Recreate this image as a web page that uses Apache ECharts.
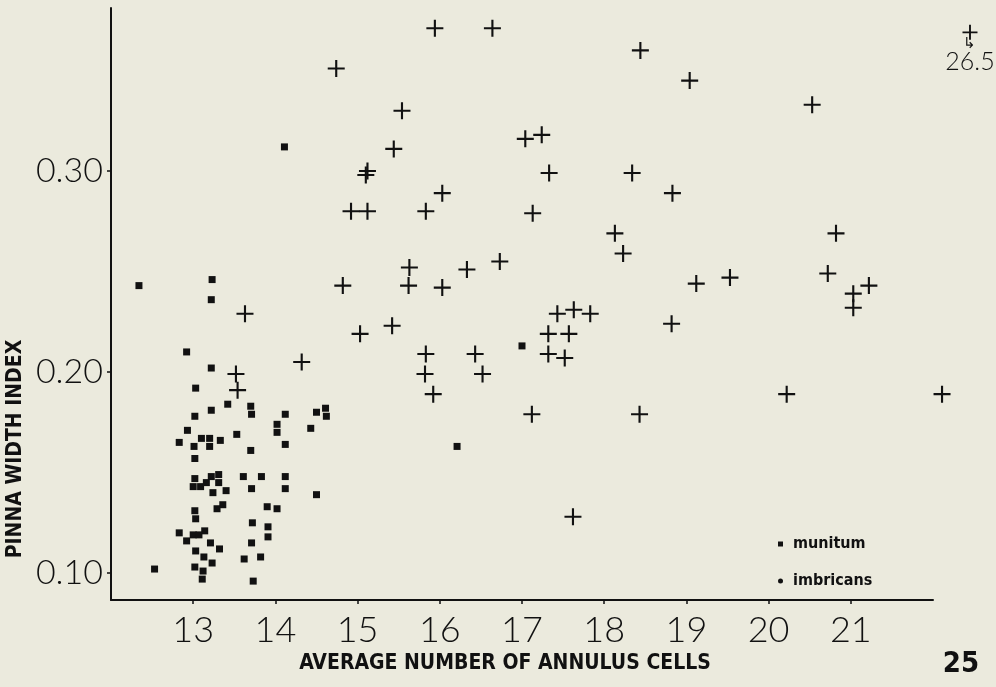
<!DOCTYPE html>
<html>
<head>
<meta charset="utf-8">
<script src="https://cdn.jsdelivr.net/npm/echarts@6/dist/echarts.min.js"></script>
<style>
  html, body { margin: 0; padding: 0; background: #ebeadd; }
  #chart { width: 996px; height: 687px; }
</style>
</head>
<body>
<div id="chart"></div>
<script>
// ---- data (x = average number of annulus cells, y = pinna width index) ----
const xTickValues = [13, 14, 15, 16, 17, 18, 19, 20, 21];
const yTickValues = [0.10, 0.20, 0.30];

const munitum = [
  [12.34, 0.243], [13.23, 0.246], [13.22, 0.236], [14.11, 0.312], [12.92, 0.210],
  [17.00, 0.213], [16.21, 0.163], [14.61, 0.182], [14.62, 0.178],
  [13.22, 0.202], [13.03, 0.192], [13.42, 0.184], [13.70, 0.183], [13.71, 0.179],
  [14.12, 0.179], [14.50, 0.180], [13.02, 0.178], [13.22, 0.181], [12.93, 0.171],
  [13.53, 0.169], [14.02, 0.174], [14.43, 0.172], [14.02, 0.170], [12.83, 0.165],
  [13.10, 0.167], [13.20, 0.167], [13.33, 0.166], [13.01, 0.163], [13.20, 0.163],
  [13.70, 0.161], [14.12, 0.164], [13.02, 0.157], [13.22, 0.148], [13.31, 0.149],
  [13.61, 0.148], [13.83, 0.148], [14.12, 0.148], [13.02, 0.147], [13.00, 0.143],
  [13.09, 0.143], [13.16, 0.145], [13.31, 0.145], [13.24, 0.140], [13.40, 0.141],
  [13.71, 0.142], [14.12, 0.142], [14.50, 0.139], [13.36, 0.134], [13.29, 0.132],
  [13.90, 0.133], [14.02, 0.132], [13.02, 0.131], [13.03, 0.127], [13.72, 0.125],
  [13.91, 0.123], [13.91, 0.118], [12.83, 0.120], [13.14, 0.121], [13.00, 0.119],
  [13.07, 0.119], [12.92, 0.116], [13.21, 0.115], [13.32, 0.112], [13.71, 0.115],
  [13.03, 0.111], [13.13, 0.108], [13.62, 0.107], [13.82, 0.108], [13.23, 0.105],
  [12.53, 0.102], [13.02, 0.103], [13.12, 0.101], [13.11, 0.097], [13.73, 0.096]
];

const imbricans = [
  [15.94, 0.371], [16.64, 0.371], [14.74, 0.351], [15.54, 0.330], [15.44, 0.311],
  [17.04, 0.316], [17.24, 0.318], [15.12, 0.300], [15.10, 0.298], [16.03, 0.289],
  [14.92, 0.280], [15.12, 0.280], [15.83, 0.280], [17.13, 0.279], [17.33, 0.299],
  [15.63, 0.252], [15.62, 0.243], [16.03, 0.242], [16.33, 0.251], [16.73, 0.255],
  [14.82, 0.243], [13.63, 0.229], [15.03, 0.219], [15.42, 0.223], [15.83, 0.209],
  [16.43, 0.209], [17.32, 0.219], [17.57, 0.219], [17.32, 0.209], [17.52, 0.207],
  [14.32, 0.205], [15.82, 0.199], [16.52, 0.199], [15.92, 0.189], [17.12, 0.179],
  [17.62, 0.128], [18.43, 0.179], [17.43, 0.229], [17.63, 0.231], [17.83, 0.229],
  [18.44, 0.360], [19.04, 0.345], [20.53, 0.333], [18.34, 0.299], [18.83, 0.289],
  [18.13, 0.269], [18.23, 0.259], [19.12, 0.244], [19.53, 0.247], [20.82, 0.269],
  [20.72, 0.249], [21.22, 0.243], [21.03, 0.239], [21.03, 0.232], [18.82, 0.224],
  [13.52, 0.199], [13.54, 0.191], [20.22, 0.189], [22.11, 0.189]
];

// point plotted past the axis end, annotated with its real value
const brokenScalePoint = [[22.45, 0.369]];
const brokenScaleLabel = '26.5';

// ---- chart ----
const ink = '#111111';
const plusPath = 'path://M7,0H9V7H16V9H9V16H7V9H0V7H7Z';
const thinFont = 'Lato';
const boldFont = '"Liberation Sans Narrow", "DejaVu Sans Condensed", sans-serif';

const chart = echarts.init(document.getElementById('chart'), null, { renderer: 'canvas' });
chart.setOption({
  backgroundColor: '#ebeadd',
  animation: false,
  grid: { left: 111, right: 63, top: 8, bottom: 87, containLabel: false },
  xAxis: {
    type: 'value',
    min: 12, max: 22,
    splitLine: { show: false },
    axisLine: { show: true, lineStyle: { color: ink, width: 2 } },
    axisTick: { show: true, length: 4, lineStyle: { color: ink, width: 1.5 }, customValues: xTickValues },
    axisLabel: {
      customValues: xTickValues, margin: 12,
      color: ink, fontFamily: thinFont, fontWeight: 300, fontSize: 36
    }
  },
  yAxis: {
    type: 'value',
    min: 0.0866, max: 0.3811,
    splitLine: { show: false },
    axisLine: { show: true, lineStyle: { color: ink, width: 2 } },
    axisTick: { show: true, length: 4, lineStyle: { color: ink, width: 1.5 }, customValues: yTickValues },
    axisLabel: {
      customValues: yTickValues, margin: 8,
      formatter: v => v.toFixed(2),
      color: ink, fontFamily: thinFont, fontWeight: 300, fontSize: 34
    }
  },
  legend: {
    orient: 'vertical',
    left: 773, top: 531,
    itemWidth: 5, itemHeight: 5, itemGap: 21,
    textStyle: { color: ink, fontFamily: boldFont, fontWeight: 'bold', fontSize: 16, padding: [0, 0, 0, 5] },
    data: [
      { name: 'munitum', icon: 'rect' },
      { name: 'imbricans', icon: 'circle' }
    ]
  },
  series: [
    {
      name: 'munitum', type: 'scatter', data: munitum,
      symbol: 'rect', symbolSize: 7, clip: false,
      itemStyle: { color: ink, opacity: 1 }
    },
    {
      name: 'imbricans', type: 'scatter', data: imbricans,
      symbol: plusPath, symbolSize: 17, clip: false,
      itemStyle: { color: ink, opacity: 1 }
    },
    {
      name: 'imbricans-broken', type: 'scatter', data: brokenScalePoint,
      symbol: plusPath, symbolSize: 15, clip: false,
      itemStyle: { color: ink, opacity: 1 },
      label: {
        show: true, position: 'bottom', distance: -2,
        formatter: () => '{h|↳}\n{v|' + brokenScaleLabel + '}',
        rich: {
          h: { fontSize: 15, color: ink, align: 'center', lineHeight: 12 },
          v: { fontFamily: thinFont, fontWeight: 300, fontSize: 25, color: ink, lineHeight: 24 }
        }
      }
    }
  ],
  graphic: [
    {
      type: 'text', x: 505, y: 664,
      style: { text: 'AVERAGE NUMBER OF ANNULUS CELLS', fill: ink, font: 'bold 21px ' + boldFont, align: 'center', verticalAlign: 'middle' }
    },
    {
      type: 'text', x: 16, y: 449, rotation: Math.PI / 2,
      style: { text: 'PINNA WIDTH INDEX', fill: ink, font: 'bold 21px ' + boldFont, align: 'center', verticalAlign: 'middle' }
    },
    {
      type: 'text', x: 961, y: 664,
      style: { text: '25', fill: ink, font: 'bold 29px ' + boldFont, align: 'center', verticalAlign: 'middle' }
    }
  ]
});
</script>
</body>
</html>
